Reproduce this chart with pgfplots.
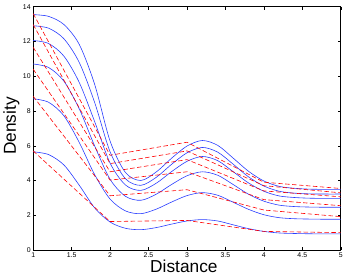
\documentclass[border=0pt]{standalone}
\usepackage{pgfplots}
\pgfplotsset{compat=1.18}
\usepackage{fontspec}
\setmainfont{Liberation Sans}
\begin{document}
\begin{tikzpicture}
\begin{axis}[
  scale only axis,
  width=310bp, height=245.3bp,
  xmin=1, xmax=5, ymin=0, ymax=14,
  xtick={1,1.5,2,2.5,3,3.5,4,4.5,5},
  ytick={0,2,4,6,8,10,12,14},
  xticklabels={1,1.5,2,2.5,3,3.5,4,4.5,5},
  tick align=inside, tick pos=both,
  major tick length=3bp,
  tick style={black, line width=0.4pt},
  axis line style={black, line width=0.5pt},
  /pgf/number format/assume math mode=true,
  tick label style={font=\fontsize{7}{8}\selectfont},
  xticklabel style={yshift=1bp},
  yticklabel style={xshift=1bp},
  xlabel={Distance}, ylabel={Density},
  label style={font=\fontsize{17.5}{20}\selectfont},
  xlabel style={at={(axis description cs:0.49,-0.068)}, anchor=center},
  ylabel style={at={(axis description cs:-0.071,0.51)}, anchor=center},
  clip=true,
  blue curve/.style={color={rgb,255:red,40;green,60;blue,255}, line width=0.6pt, smooth, tension=0.5},
  red curve/.style={red, line width=0.6pt, dash pattern=on 4.5bp off 2.5bp},
]
% blue smooth curves
\addplot[blue curve] coordinates {
(1.0,13.54)(1.2,13.44)(1.4,12.97)(1.6,11.82)(1.8,9.52)(2.0,6.27)(2.2,4.46)(2.4,4.00)(2.6,4.49)(2.8,5.28)(3.0,5.98)(3.2,6.30)(3.4,6.02)(3.6,5.29)(3.8,4.53)(4.0,3.97)(4.2,3.66)(4.4,3.55)(4.6,3.50)(4.8,3.49)(5.0,3.49)};
\addplot[blue curve] coordinates {
(1.0,12.90)(1.2,12.76)(1.4,12.15)(1.6,10.78)(1.8,8.48)(2.0,5.65)(2.2,4.10)(2.4,3.72)(2.6,4.18)(2.8,4.93)(3.0,5.59)(3.2,5.90)(3.4,5.63)(3.6,4.94)(3.8,4.21)(4.0,3.68)(4.2,3.38)(4.4,3.27)(4.6,3.23)(4.8,3.22)(5.0,3.22)};
\addplot[blue curve] coordinates {
(1.0,12.05)(1.2,11.88)(1.4,11.15)(1.6,9.63)(1.8,7.38)(2.0,5.00)(2.2,3.74)(2.4,3.43)(2.6,3.84)(2.8,4.51)(3.0,5.10)(3.2,5.38)(3.4,5.14)(3.6,4.51)(3.8,3.86)(4.0,3.38)(4.2,3.11)(4.4,3.02)(4.6,2.98)(4.8,2.97)(5.0,2.97)};
\addplot[blue curve] coordinates {
(1.0,10.70)(1.2,10.50)(1.4,9.71)(1.6,8.11)(1.8,5.98)(2.0,4.07)(2.2,3.09)(2.4,2.86)(2.6,3.21)(2.8,3.77)(3.0,4.27)(3.2,4.50)(3.4,4.30)(3.6,3.77)(3.8,3.21)(4.0,2.81)(4.2,2.58)(4.4,2.50)(4.6,2.47)(4.8,2.46)(5.0,2.46)};
\addplot[blue curve] coordinates {
(1.0,8.70)(1.2,8.50)(1.4,7.72)(1.6,6.18)(1.8,4.33)(2.0,2.93)(2.2,2.25)(2.4,2.09)(2.6,2.35)(2.8,2.76)(3.0,3.13)(3.2,3.30)(3.4,3.15)(3.6,2.75)(3.8,2.34)(4.0,2.03)(4.2,1.86)(4.4,1.80)(4.6,1.78)(4.8,1.77)(5.0,1.77)};
\addplot[blue curve] coordinates {
(1.0,5.65)(1.2,5.49)(1.4,4.89)(1.6,3.72)(1.8,2.42)(2.0,1.61)(2.2,1.25)(2.4,1.17)(2.6,1.29)(2.8,1.49)(3.0,1.67)(3.2,1.75)(3.4,1.67)(3.6,1.45)(3.8,1.23)(4.0,1.07)(4.2,0.98)(4.4,0.95)(4.6,0.934)(4.8,0.93)(5.0,0.93)};
% red dashed piecewise-linear
\addplot[red curve] coordinates {(1,13.6)(2,5.45)(3,6.2)(4,3.9)(5,3.54)};
\addplot[red curve] coordinates {(1,12.97)(2,4.97)(3,5.7)(4,3.7)(5,3.29)};
\addplot[red curve] coordinates {(1,11.66)(2,4.5)(3,5.2)(4,3.4)(5,3.06)};
\addplot[red curve] coordinates {(1,10.4)(2,4.02)(3,4.5)(4,2.9)(5,2.55)};
\addplot[red curve] coordinates {(1,8.84)(2,3.12)(3,3.47)(4,2.3)(5,1.92)};
\addplot[red curve] coordinates {(1,5.7)(2,1.64)(3,1.7)(4,1.07)(5,1.0)};
\end{axis}
\path ([shift={(-30.7bp,-27bp)}]current axis.south west) rectangle ([shift={(5.3bp,6.7bp)}]current axis.north east);
\end{tikzpicture}
\end{document}
